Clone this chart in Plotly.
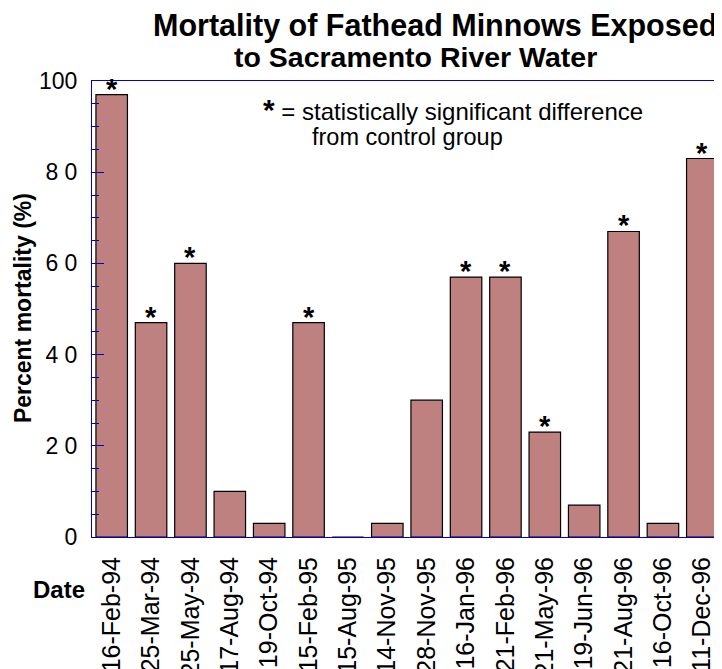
import plotly.graph_objects as go

dates = ['16-Feb-94', '25-Mar-94', '25-May-94', '17-Aug-94', '19-Oct-94',
         '15-Feb-95', '15-Aug-95', '14-Nov-95', '28-Nov-95', '16-Jan-96',
         '21-Feb-96', '21-May-96', '19-Jun-96', '21-Aug-96', '16-Oct-96',
         '11-Dec-96']
mortality = [97, 47, 60, 10, 3, 47, 0, 3, 30, 57, 57, 23, 7, 67, 3, 83]
significant = [True, True, True, False, False, True, False, False, False,
               True, True, True, False, True, False, True]

y_ticks = [0, 20, 40, 60, 80, 100]
y_tick_text = ['0', '2 0', '4 0', '6 0', '8 0', '100']

axis_blue = '#0000c8'
font_family = 'Arial, Liberation Sans, sans-serif'

fig = go.Figure()

fig.add_trace(go.Bar(
    x=dates, y=mortality,
    marker=dict(color='#bf8080', line=dict(color='black', width=1.2)),
    showlegend=False,
))

# asterisks over the significant bars
for d, v, s in zip(dates, mortality, significant):
    if s:
        fig.add_annotation(x=d, y=v, text='<b>*</b>', showarrow=False,
                           xref='x', yref='y', yanchor='bottom', yshift=-12,
                           font=dict(size=29, color='black', family=font_family))

# title, two lines placed separately
fig.add_annotation(xref='paper', yref='paper', x=0.5444, y=1.1228,
                   xanchor='center', yanchor='middle', showarrow=False,
                   text='<b>Mortality of Fathead Minnows Exposed</b>',
                   font=dict(size=30.5, color='black', family=font_family))
fig.add_annotation(xref='paper', yref='paper', x=0.5127, y=1.0526,
                   xanchor='center', yanchor='middle', showarrow=False,
                   text='<b>to Sacramento River Water</b>',
                   font=dict(size=28.5, color='black', family=font_family))

# key for the asterisk
fig.add_annotation(xref='paper', yref='paper', x=(261 - 92) / 630, y=0.937,
                   xanchor='left', yanchor='middle', showarrow=False,
                   text='<span style="font-size:30px"><b>*</b></span> = statistically significant difference',
                   font=dict(size=24, color='black', family=font_family))
fig.add_annotation(xref='paper', yref='paper', x=(310 - 92) / 630, y=0.877,
                   xanchor='left', yanchor='middle', showarrow=False,
                   text='from control group',
                   font=dict(size=23.5, color='black', family=font_family))

fig.add_annotation(xref='paper', yref='paper', x=-0.1095, y=0.502, textangle=-90,
                   xanchor='center', yanchor='middle', showarrow=False,
                   text='<b>Percent mortality (%)</b>',
                   font=dict(size=23, color='black', family=font_family))

fig.add_annotation(xref='paper', yref='paper', x=-0.008, y=-0.116,
                   xanchor='right', yanchor='middle', showarrow=False,
                   text='<b>Date</b>',
                   font=dict(size=24, color='black', family=font_family))

# the page body adds an 8px offset, so margins are shifted to compensate
fig.update_layout(
    width=722, height=669,
    margin=dict(l=84, r=8, t=73, b=140),
    plot_bgcolor='white', paper_bgcolor='white',
    bargap=0.2,
    font=dict(family=font_family, color='black'),
    xaxis=dict(
        type='category', tickangle=-90, showline=True, linecolor=axis_blue,
        linewidth=1, mirror=True, ticks='', showgrid=False, automargin=False,
        tickfont=dict(size=25, color='black'), ticklabelstandoff=9,
    ),
    yaxis=dict(
        range=[0, 100], tickvals=y_ticks, ticktext=y_tick_text,
        showline=True, linecolor=axis_blue, linewidth=1,
        ticks='inside', ticklen=12, tickcolor=axis_blue, tickwidth=1,
        showgrid=False, zeroline=False, ticklabelstandoff=9, automargin=False,
        tickfont=dict(size=23, color='black'),
        minor=dict(dtick=5, ticks='inside', ticklen=7, tickcolor=axis_blue,
                   tickwidth=1, showgrid=False),
    ),
    # right-hand ticks, same scale, no labels
    yaxis2=dict(
        range=[0, 100], overlaying='y', side='right', tickvals=y_ticks,
        showticklabels=False, showline=True, linecolor=axis_blue, linewidth=1,
        ticks='inside', ticklen=12, tickcolor=axis_blue, tickwidth=1,
        showgrid=False, zeroline=False, automargin=False,
        minor=dict(dtick=5, ticks='inside', ticklen=5, tickcolor=axis_blue,
                   tickwidth=1, showgrid=False),
    ),
)

fig.write_html('out.html')
